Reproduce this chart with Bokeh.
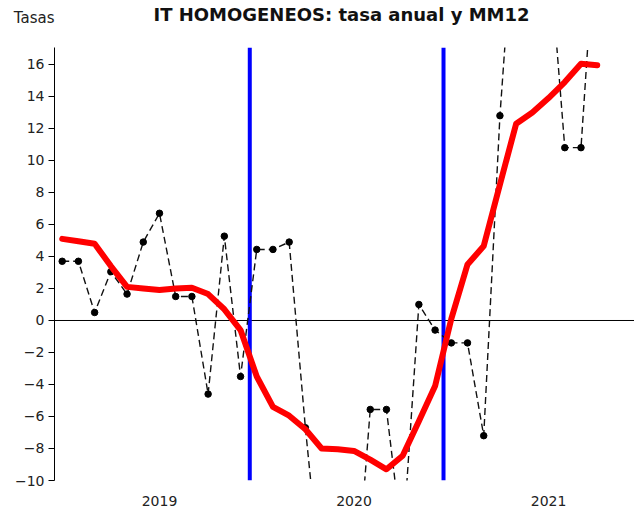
from bokeh.plotting import figure
from bokeh.models import Span, FixedTicker, Range1d
from bokeh.layouts import column
from bokeh.core.properties import value
from bokeh.embed import file_html
from bokeh.resources import INLINE

# --- data (monthly index, 0 = Jul 2018) ---
months = list(range(34))
tasa_anual = [3.7, 3.7, 0.5, 3.05, 1.65, 4.9, 6.7, 1.5, 1.5, -4.6,
              5.27, -3.5, 4.44, 4.44, 4.9, -6.7, -16.8, -18.0, -18.6, -5.56,
              -5.56, -14.0, 1.0, -0.6, -1.4, -1.4, -7.2, 12.8, 27.0, 27.0,
              23.6, 10.8, 10.8, 26.0]
mm12 = [5.1, 4.95, 4.8, 3.4, 2.1, 2.0, 1.9, 2.0, 2.05, 1.65,
        0.7, -0.6, -3.5, -5.4, -5.95, -6.8, -8.0, -8.05, -8.15, -8.7,
        -9.3, -8.45, -6.3, -4.1, 0.1, 3.5, 4.65, 8.5, 12.3, 13.0,
        13.9, 14.9, 16.05, 15.95]
event_lines = [11.57, 23.52]
year_ticks = [6, 18, 30]
year_labels = ["2019", "2020", "2021"]
y_ticks = list(range(-10, 17, 2))
title_text = "IT HOMOGENEOS: tasa anual y MM12"
y_title = "Tasas"

FONT = "DejaVu Sans"

# ---- header (title + y-axis caption) ----
head = figure(width=634, height=47, output_backend="svg", toolbar_location=None,
              x_range=Range1d(54, 634), y_range=Range1d(47, 0),
              x_axis_location=None, y_axis_location="left",
              min_border_left=54, min_border_right=0,
              min_border_top=0, min_border_bottom=0)
head.grid.visible = False
head.outline_line_color = None
head.yaxis.ticker = FixedTicker(ticks=[17])
head.yaxis.major_label_overrides = {17: y_title}
head.yaxis.major_label_text_font = FONT
head.yaxis.major_label_text_font_size = "15px"
head.yaxis.major_label_text_color = "#222222"
head.yaxis.axis_line_color = None
head.yaxis.major_tick_line_color = None
head.yaxis.minor_tick_line_color = None
head.yaxis.major_tick_out = 0
head.yaxis.major_tick_in = 0
head.yaxis.major_label_standoff = 0
head.text(x=[341], y=[14], text=[title_text], text_font=value(FONT),
          text_font_style="bold", text_font_size="18px", text_align="center",
          text_baseline="alphabetic", text_color="#111111")

# ---- main chart ----
p = figure(width=634, height=462, output_backend="svg", toolbar_location=None,
           x_range=Range1d(-0.475, 35.3), y_range=Range1d(-10, 17.06),
           min_border_left=54, min_border_right=0, min_border_top=0,
           min_border_bottom=29)
p.outline_line_color = None
p.xgrid.visible = False
p.ygrid.visible = False
p.background_fill_color = "white"

p.add_layout(Span(location=0, dimension="width", line_color="black",
                  line_width=1, level="underlay"))
for loc in event_lines:
    p.add_layout(Span(location=loc, dimension="height", line_color="#0000FF",
                      line_width=4, level="underlay"))

p.line(months, tasa_anual, line_color="#111111", line_width=1.4,
       line_dash="7 4")
p.scatter(months, tasa_anual, size=6.5, fill_color="black", line_color="black")

p.line(months, mm12, line_color="#FF0000", line_width=6,
       line_join="round", line_cap="round")

p.yaxis.ticker = FixedTicker(ticks=y_ticks)
p.yaxis.major_label_text_font = FONT
p.yaxis.major_label_text_font_size = "14px"
p.yaxis.major_label_text_color = "#222222"
p.yaxis.axis_line_color = "black"
p.yaxis.major_tick_line_color = "black"
p.yaxis.major_tick_out = 6
p.yaxis.major_tick_in = 0
p.yaxis.minor_tick_line_color = None
p.yaxis.major_label_standoff = 4

p.xaxis.ticker = FixedTicker(ticks=year_ticks)
p.xaxis.major_label_overrides = {t: l for t, l in zip(year_ticks, year_labels)}
p.xaxis.major_label_text_font = FONT
p.xaxis.major_label_text_font_size = "14px"
p.xaxis.major_label_text_color = "#222222"
p.xaxis.axis_line_color = None
p.xaxis.major_tick_line_color = None
p.xaxis.minor_tick_line_color = None
p.xaxis.major_tick_out = 0
p.xaxis.major_label_standoff = 15

layout = column(head, p, spacing=0)
open("out.html", "w").write(file_html(layout, INLINE))
